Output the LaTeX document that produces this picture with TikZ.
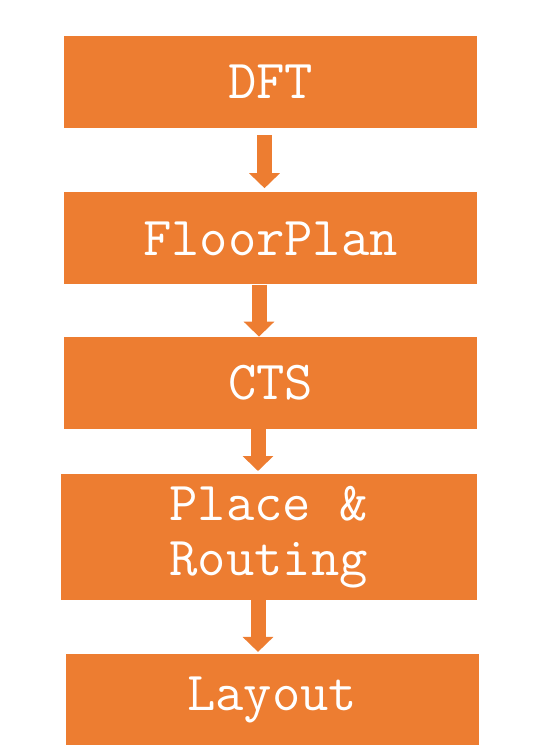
\documentclass[tikz,border=0pt]{standalone}
\usepackage{fontspec}
\usepackage{xcolor}
\usetikzlibrary{arrows.meta, positioning}

\definecolor{flowOrange}{HTML}{ED7D31}

\begin{document}
\begin{tikzpicture}[
  x=1pt, y=-1pt,
  stage/.style={rectangle, fill=flowOrange, draw=none, inner sep=0pt,
                minimum width=413pt, minimum height=92pt, text=white,
                font=\ttfamily\fontsize{55}{55}\selectfont},
  arr/.style={-{Triangle[width=30pt, length=15pt]}, line width=15pt, flowOrange},
]
\useasboundingbox (0,0) rectangle (537,755);

% Stages
\node[stage] (dft) at (270.5,82) {DFT};
\node[stage, below=64pt of dft] (floorplan) {FloorPlan};
\node[stage, below=52pt of floorplan] (cts) {CTS};
\node[stage, below=45pt of cts, xshift=-1.7pt, minimum width=415.5pt,
      minimum height=126pt, align=left] (pnr) {Place \&\\Routing};
\node[stage, below=53.5pt of pnr, xshift=3.5pt, minimum height=91pt] (layout) {Layout};

% Flow arrows
\draw[arr] ([xshift=-6pt, yshift=-7pt]dft.south) -- ([xshift=-6pt, yshift=4pt]floorplan.north);
\draw[arr] ([xshift=-11.5pt]floorplan.south) -- ([xshift=-11.5pt]cts.north);
\draw[arr] ([xshift=-12.5pt]cts.south) -- ([xshift=-10.8pt, yshift=3pt]pnr.north);
\draw[arr] ([xshift=-10.8pt]pnr.south) -- ([xshift=-14.3pt, yshift=2pt]layout.north);

\end{tikzpicture}
\end{document}
